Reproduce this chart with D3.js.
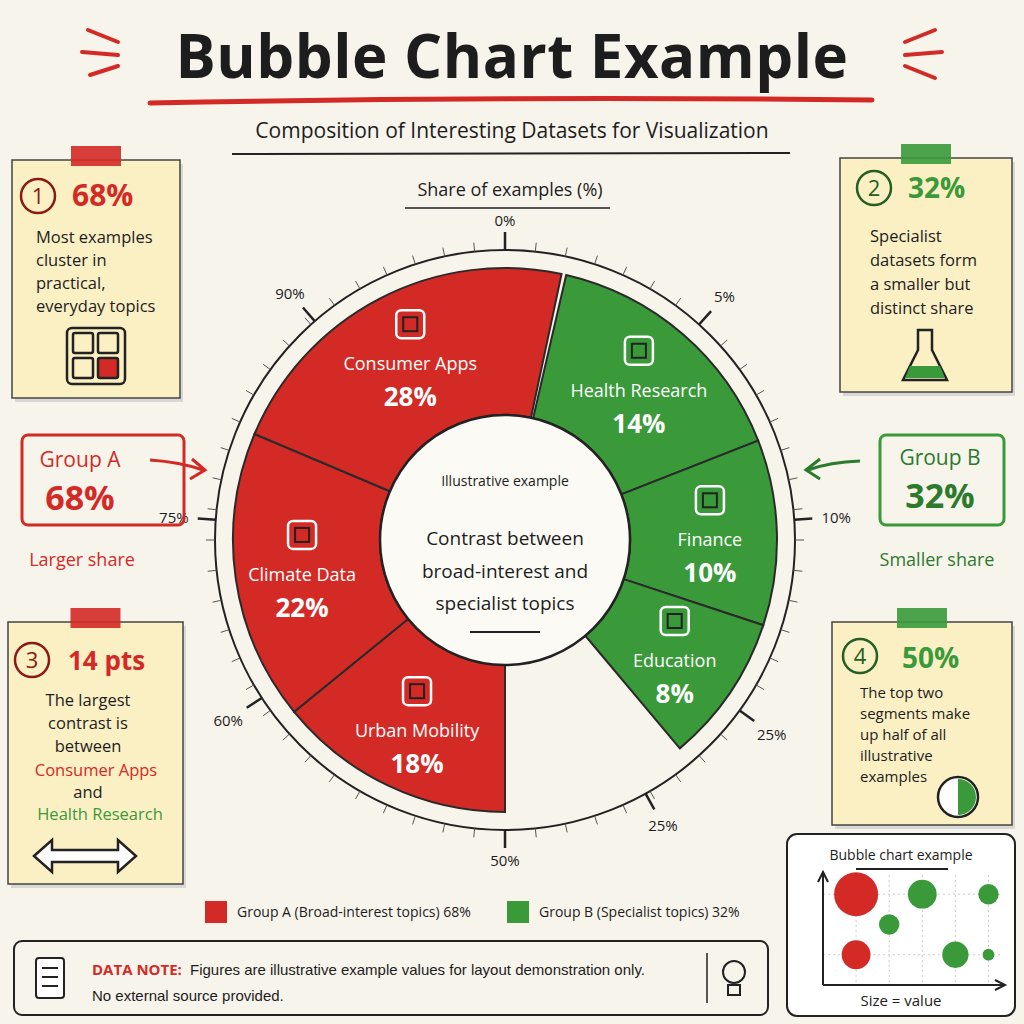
<!DOCTYPE html>
<html><head><meta charset="utf-8">
<script src="https://cdn.jsdelivr.net/npm/d3@7"></script>
<style>body{margin:0;background:#f7f4ec}svg{display:block}text{font-family:"Open Sans",sans-serif;fill:#1d1d1d}</style>
</head><body><svg id="c" width="1024" height="1024"></svg>
<script>
const categoriesA = ["Urban Mobility","Climate Data","Consumer Apps"];
const valuesA = [18,22,28];
const categoriesB = ["Health Research","Finance","Education"];
const valuesB = [14,10,8];
const groupNames = ["Group A (Broad-interest topics) 68%","Group B (Specialist topics) 32%"];
const tickLabels = ["0%","5%","10%","25%","25%","50%","60%","75%","90%"];
const tickAngles = [0,42,86,126,151,180,237,274,319];
const bubbleX = [1,1,3,2,4,5,5];
const bubbleY = [3,1,3,2,1,3,1];
const bubbleV = [28,12,12,6,10,6,2];
const bubbleG = ["A","A","B","B","B","B","B"];

const RED="#d42a26", GREEN="#3a9a3a", CARD="#fbefc4";
const svg=d3.select("#c");
svg.append("rect").attr("width",1024).attr("height",1024).attr("fill","#f7f4ec");
function T(x,y,s,o={}){const t=svg.append("text").attr("x",x).attr("y",y).text(s).attr("font-size",o.size||18).attr("text-anchor",o.anchor||"middle").style("fill",o.fill||"#1d1d1d").attr("font-weight",o.weight||"normal");return t;}

T(512,78,"Bubble Chart Example",{size:60,weight:"bold"}).attr("letter-spacing",0.5);
svg.append("path").attr("d","M150,103 Q500,96 872,100").attr("stroke",RED).attr("stroke-width",5).attr("fill","none").attr("stroke-linecap","round");
[[88,30,118,42],[82,52,118,55],[90,75,118,66],[905,42,935,30],[905,55,942,52],[905,66,935,78]].forEach(d=>svg.append("line").attr("x1",d[0]).attr("y1",d[1]).attr("x2",d[2]).attr("y2",d[3]).attr("stroke",RED).attr("stroke-width",4).attr("stroke-linecap","round"));
T(512,138,"Composition of Interesting Datasets for Visualization",{size:21});
svg.append("line").attr("x1",232).attr("x2",790).attr("y1",154).attr("y2",153).attr("stroke","#222").attr("stroke-width",2);
T(510,196,"Share of examples (%)",{size:18});
svg.append("line").attr("x1",405).attr("x2",610).attr("y1",208).attr("y2",208).attr("stroke","#222").attr("stroke-width",1.5);

const cx=505, cy=540, rIn=125, rOut=272, rRing=290;
const g=svg.append("g").attr("transform",`translate(${cx},${cy})`);
const rad=d=>d*Math.PI/180;
const arc=d3.arc().innerRadius(rIn).outerRadius(rOut);
const pieA=d3.pie().sort(null).startAngle(rad(180)).endAngle(rad(372));
const pieB=d3.pie().sort(null).startAngle(rad(13)).endAngle(rad(140));
const arcsA=pieA(valuesA).map((d,i)=>({...d,name:categoriesA[i],col:RED}));
const arcsB=pieB(valuesB).map((d,i)=>({...d,name:categoriesB[i],col:GREEN}));
const all=arcsA.concat(arcsB);
g.append("circle").attr("r",rRing).attr("fill","none").attr("stroke","#222").attr("stroke-width",2);
d3.range(0,360,6).forEach(a=>{g.append("line").attr("x1",Math.sin(rad(a))*rRing).attr("y1",-Math.cos(rad(a))*rRing).attr("x2",Math.sin(rad(a))*(rRing+9)).attr("y2",-Math.cos(rad(a))*(rRing+9)).attr("stroke","#555").attr("stroke-width",1);});
tickAngles.forEach((a,i)=>{
 g.append("line").attr("x1",Math.sin(rad(a))*rRing).attr("y1",-Math.cos(rad(a))*rRing).attr("x2",Math.sin(rad(a))*(rRing+18)).attr("y2",-Math.cos(rad(a))*(rRing+18)).attr("stroke","#222").attr("stroke-width",2.5);
 const s=Math.sin(rad(a)), rr=rRing+30+Math.abs(s)*12;
 g.append("text").attr("x",s*rr).attr("y",-Math.cos(rad(a))*rr+6).attr("text-anchor","middle").attr("font-size",15).text(tickLabels[i]);
});
g.selectAll("path.seg").data(all).join("path").attr("class","seg").attr("d",arc).attr("fill",d=>d.col).attr("stroke","#2a2a2a").attr("stroke-width",2);
g.append("circle").attr("r",rIn).attr("fill","#fbfaf5").attr("stroke","#222").attr("stroke-width",2.5);
all.forEach(d=>{
 const [x,y]=d3.arc().innerRadius(205).outerRadius(205).centroid(d);
 g.append("text").attr("x",x).attr("y",y+12).attr("text-anchor","middle").attr("font-size",18).style("fill","#fff").text(d.name);
 g.append("text").attr("x",x).attr("y",y+48).attr("text-anchor","middle").attr("font-size",26).attr("font-weight","bold").style("fill","#fff").text(d.value+"%");
 const ic=g.append("g").attr("transform",`translate(${x},${y-30})`).attr("fill","none").attr("stroke","#fff").attr("stroke-width",2.5);
 ic.append("rect").attr("x",-14).attr("y",-18).attr("width",28).attr("height",28).attr("rx",5);
 ic.append("rect").attr("x",-7).attr("y",-11).attr("width",14).attr("height",14).attr("stroke","#222").attr("stroke-width",2);
});
T(cx,486,"Illustrative example",{size:14});
T(cx,545,"Contrast between",{size:19});
T(cx,578,"broad-interest and",{size:19});
T(cx,610,"specialist topics",{size:19});
svg.append("line").attr("x1",470).attr("x2",540).attr("y1",632).attr("y2",632).attr("stroke","#222").attr("stroke-width",2);

function card(x,y,w,h,tape){svg.append("rect").attr("x",x+3).attr("y",y+4).attr("width",w).attr("height",h).attr("fill","#bbb").attr("opacity",0.5);
 svg.append("rect").attr("x",x).attr("y",y).attr("width",w).attr("height",h).attr("fill",CARD).attr("stroke","#444").attr("stroke-width",1.5);
 svg.append("rect").attr("x",x+w/2-25).attr("y",y-14).attr("width",50).attr("height",20).attr("fill",tape).attr("opacity",0.9);}
function num(x,y,n,col){svg.append("circle").attr("cx",x).attr("cy",y).attr("r",17).attr("fill","none").attr("stroke",col==RED?"#8a1a16":"#245f24").attr("stroke-width",2.5);T(x,y+8,n,{size:22,fill:col==RED?"#8a1a16":"#245f24"});}
card(12,160,168,238,RED);
num(38,196,"1",RED);T(72,206,"68%",{size:30,weight:"bold",fill:RED,anchor:"start"});
["Most examples","cluster in","practical,","everyday topics"].forEach((s,i)=>T(36,243+i*23,s,{size:16.5,anchor:"start"}));
const gi=svg.append("g").attr("fill","none").attr("stroke","#222").attr("stroke-width",2.5);
gi.append("rect").attr("x",67).attr("y",328).attr("width",58).attr("height",56).attr("rx",5);
[[73,333],[98,333],[73,358],[98,358]].forEach((p,i)=>gi.append("rect").attr("x",p[0]).attr("y",p[1]).attr("width",20).attr("height",20).attr("rx",2).attr("fill",i==3?RED:"none"));

card(840,158,172,234,GREEN);
num(874,188,"2",GREEN);T(908,198,"32%",{size:28,weight:"bold",fill:GREEN,anchor:"start"});
["Specialist","datasets form","a smaller but","distinct share"].forEach((s,i)=>T(870,242+i*24,s,{size:16.5,anchor:"start"}));
svg.append("path").attr("d","M918,330 L918,350 L903,380 L947,380 L932,350 L932,330 Z").attr("fill","none").attr("stroke","#222").attr("stroke-width",2.5);
svg.append("path").attr("d","M910,366 L940,366 L945,378 L905,378 Z").attr("fill",GREEN);

card(8,622,175,262,RED);
num(32,660,"3",RED);T(68,670,"14 pts",{size:26,weight:"bold",fill:RED,anchor:"start"});
["The largest","contrast is","between"].forEach((s,i)=>T(88,706+i*23,s,{size:16.5}));
T(96,776,"Consumer Apps",{size:16.5,fill:RED});T(88,798,"and",{size:16.5});T(100,820,"Health Research",{size:16.5,fill:GREEN});
svg.append("path").attr("d","M34,856 L52,840 L52,850 L118,850 L118,840 L136,856 L118,872 L118,862 L52,862 L52,872 Z").attr("fill","#fff").attr("stroke","#222").attr("stroke-width",2.5);

card(832,622,180,203,GREEN);
num(860,656,"4",GREEN);T(902,668,"50%",{size:28,weight:"bold",fill:GREEN,anchor:"start"});
["The top two","segments make","up half of all","illustrative","examples"].forEach((s,i)=>T(860,698+i*21,s,{size:15,anchor:"start"}));
svg.append("circle").attr("cx",958).attr("cy",797).attr("r",20).attr("fill","#fff").attr("stroke","#222").attr("stroke-width",2.5);
svg.append("path").attr("d",d3.arc().innerRadius(0).outerRadius(18).startAngle(0).endAngle(Math.PI)()).attr("transform","translate(958,797)").attr("fill",GREEN);

svg.append("rect").attr("x",22).attr("y",435).attr("width",162).attr("height",90).attr("rx",6).attr("fill","none").attr("stroke",RED).attr("stroke-width",3);
T(80,467,"Group A",{size:21,fill:RED});T(80,510,"68%",{size:34,weight:"bold",fill:RED});
T(82,566,"Larger share",{size:18,fill:RED});
svg.append("path").attr("d","M150,460 Q180,462 203,470 M192,459 L205,470 L190,479").attr("fill","none").attr("stroke",RED).attr("stroke-width",3);
svg.append("rect").attr("x",880).attr("y",435).attr("width",124).attr("height",90).attr("rx",6).attr("fill","none").attr("stroke",GREEN).attr("stroke-width",3);
T(940,465,"Group B",{size:21,fill:"#2c7a2c"});T(940,508,"32%",{size:34,weight:"bold",fill:"#2c7a2c"});
T(937,566,"Smaller share",{size:18,fill:"#2c7a2c"});
svg.append("path").attr("d","M860,461 Q830,462 808,470 M820,459 L806,470 L820,479").attr("fill","none").attr("stroke","#2c7a2c").attr("stroke-width",3);

[[205,RED,0],[507,GREEN,1]].forEach(([x,c,i])=>{svg.append("rect").attr("x",x).attr("y",901).attr("width",22).attr("height",22).attr("fill",c);T(x+32,917,groupNames[i],{size:14,anchor:"start"});});

svg.append("rect").attr("x",14).attr("y",941).attr("width",754).attr("height",74).attr("rx",8).attr("fill","none").attr("stroke","#222").attr("stroke-width",2);
svg.append("rect").attr("x",36).attr("y",958).attr("width",28).attr("height",40).attr("rx",3).attr("fill","#fff").attr("stroke","#222").attr("stroke-width",2);
[968,977,986].forEach(y=>svg.append("line").attr("x1",42).attr("x2",58).attr("y1",y).attr("y2",y).attr("stroke","#222").attr("stroke-width",2));
T(92,975,"DATA NOTE:",{size:15,weight:"bold",fill:RED,anchor:"start"});
T(190,975,"Figures are illustrative example values for layout demonstration only.",{size:15,anchor:"start"}).style("font-family","'Liberation Sans',sans-serif");
T(92,1001,"No external source provided.",{size:15,anchor:"start"}).style("font-family","'Liberation Sans',sans-serif");
svg.append("line").attr("x1",707).attr("x2",707).attr("y1",953).attr("y2",1003).attr("stroke","#222").attr("stroke-width",1.5);
svg.append("circle").attr("cx",734).attr("cy",972).attr("r",11).attr("fill","none").attr("stroke","#222").attr("stroke-width",2);
svg.append("rect").attr("x",728).attr("y",985).attr("width",12).attr("height",10).attr("fill","none").attr("stroke","#222").attr("stroke-width",2);

svg.append("rect").attr("x",787).attr("y",834).attr("width",228).attr("height",182).attr("rx",10).attr("fill","#fff").attr("stroke","#222").attr("stroke-width",2);
T(901,860,"Bubble chart example",{size:14});
svg.append("line").attr("x1",856).attr("x2",948).attr("y1",869).attr("y2",869).attr("stroke","#222").attr("stroke-width",2);
const bx=d3.scaleLinear().domain([0,5.5]).range([823,1005]);
const by=d3.scaleLinear().domain([0,3.8]).range([985,870]);
const br=d3.scaleSqrt().domain([0,28]).range([0,22]);
[1,2,3,4,5].forEach(v=>svg.append("line").attr("x1",bx(v)).attr("x2",bx(v)).attr("y1",875).attr("y2",985).attr("stroke","#ccc").attr("stroke-dasharray","2,3"));
[1,3].forEach(v=>svg.append("line").attr("x1",823).attr("x2",1000).attr("y1",by(v)).attr("y2",by(v)).attr("stroke","#ccc").attr("stroke-dasharray","2,3"));
svg.append("path").attr("d","M823,985 L823,873 M818,882 L823,872 L828,882 M823,985 L1004,985 M995,980 L1005,985 L995,990").attr("fill","none").attr("stroke","#222").attr("stroke-width",2);
svg.selectAll("circle.b").data(bubbleV).join("circle").attr("class","b").attr("cx",(d,i)=>bx(bubbleX[i])).attr("cy",(d,i)=>by(bubbleY[i])).attr("r",d=>br(d)).attr("fill",(d,i)=>bubbleG[i]=="A"?RED:GREEN);
T(901,1006,"Size = value",{size:15});
</script></body></html>
